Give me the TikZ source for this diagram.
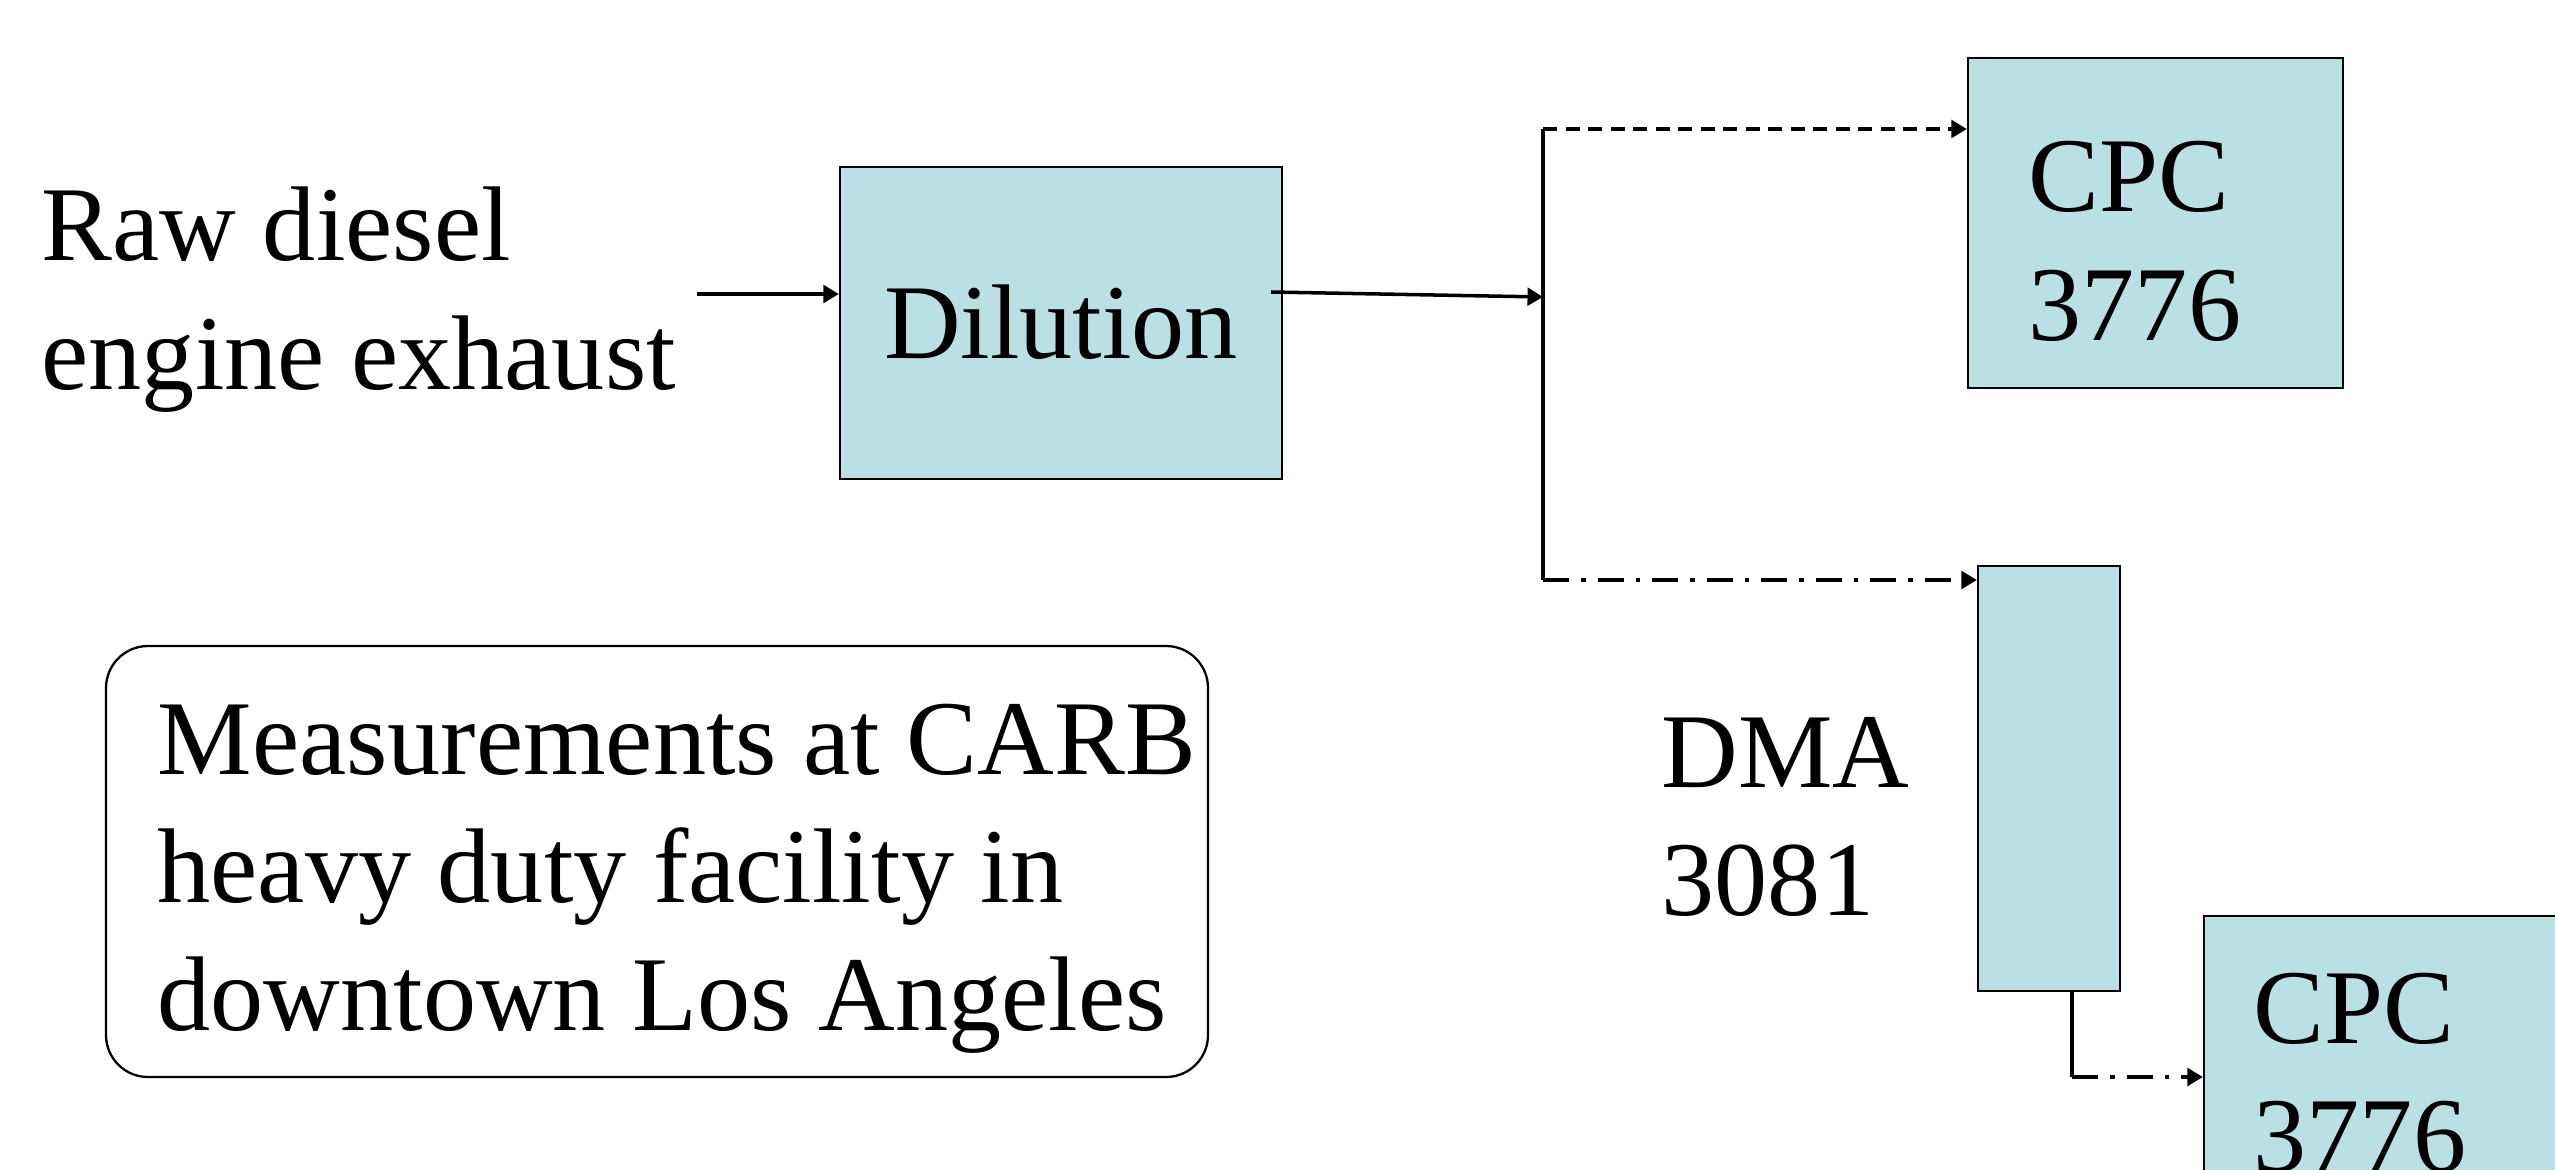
\documentclass[tikz,border=0pt]{standalone}
\usepackage{fontspec}
\setmainfont{Liberation Serif}
\usetikzlibrary{arrows.meta,fit}
\definecolor{boxfill}{RGB}{187,224,227}
\begin{document}
\begin{tikzpicture}[x=0.01cm,y=-0.01cm,
  unitbox/.style={draw=black, line width=0.65pt, fill=boxfill, rectangle, inner sep=0pt},
  notebox/.style={draw=black, line width=0.65pt, rectangle, rounded corners=0.42cm, inner sep=0pt},
  lbl/.style={inner sep=0pt, anchor=base west, align=left, font=\fontsize{30.2}{36.4}\selectfont},
  pipe/.style={line width=1pt},
  flow/.style={pipe, -{Triangle[length=4.4pt,width=5pt]}},
  dashflow/.style={flow, dash pattern=on 4pt off 2.4pt},
  dotdashflow/.style={flow, dash pattern=on 7.5pt off 3.4pt on 1.2pt off 3.4pt}
]
\useasboundingbox (0,0) rectangle (2555,1170);
\clip (0,0) rectangle (2555,1170);

% instrument boxes
\node[unitbox, fit={(840,167) (1282,479)}] (dil) {};
\node[unitbox, fit={(1968,58) (2343,388)}] (cpcA) {};
\node[unitbox, fit={(1978,566) (2120,991)}] (dma) {};
\node[unitbox, fit={(2204,916) (2650,1300)}] (cpcB) {};
\node[notebox, fit={(106,646) (1208,1077)}] (note) {};

% labels (each placed at the baseline of its last line)
\node[lbl] (raw) at (41,389) {Raw diesel\\engine exhaust};
\node[lbl, anchor=base] (diltxt) at (1061,358) {Dilution};
\node[lbl] (cpcAtxt) at (2028,340) {CPC\\3776};
\node[lbl] (dmatxt) at (1661,915) {DMA\\3081};
\node[lbl] (cpcBtxt) at (2253,1171) {CPC\\3776};
\node[lbl] (notetxt) at (157,1030) {Measurements at CARB\\heavy duty facility in\\downtown Los Angeles};

% flow lines
\coordinate (inlet) at (697,294);
\coordinate (dilout) at (1271,292);
\coordinate (junction) at (1543,297);
\coordinate (trunktop) at (1543,129);
\coordinate (trunkbot) at (1543,580);
\coordinate (dmaelbow) at (2072,1077);

\draw[flow] (inlet) -- (inlet -| dil.west);
\draw[flow] (dilout) -- (junction);
\draw[pipe] (trunktop) -- (trunkbot);
\draw[dashflow] (trunktop) -- (trunktop -| cpcA.west);
\draw[dotdashflow] (trunkbot) -- (trunkbot -| dma.west);
\draw[pipe] (dma.south -| dmaelbow) -- (dmaelbow);
\draw[dotdashflow] (dmaelbow) -- (dmaelbow -| cpcB.west);
\end{tikzpicture}
\end{document}
